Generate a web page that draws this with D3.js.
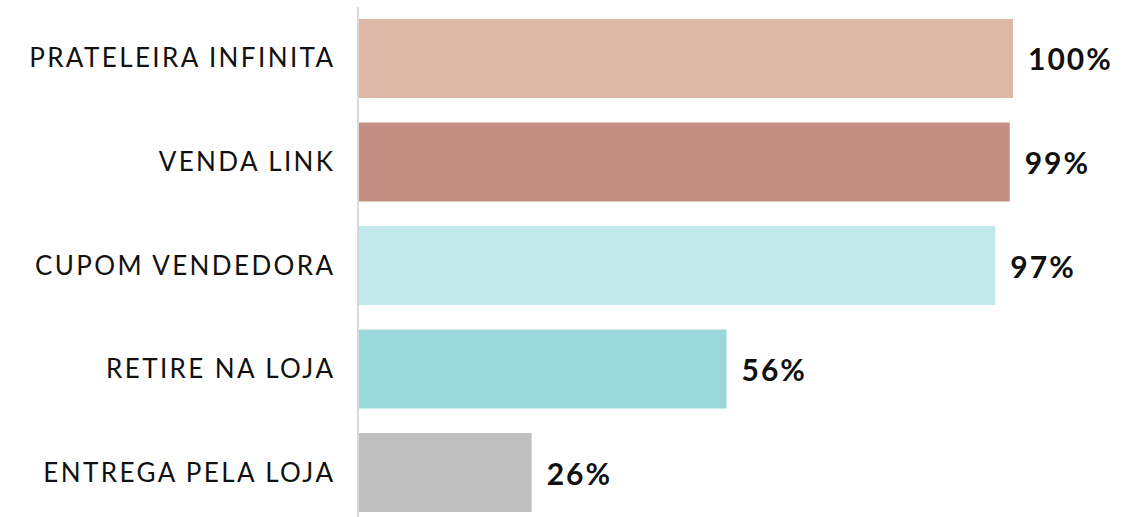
<!DOCTYPE html>
<html><head><meta charset="utf-8">
<script src="https://cdn.jsdelivr.net/npm/d3@7"></script>
<style>body{margin:0;background:#fff}svg{display:block}</style>
</head><body>
<svg id="c" width="1138" height="517"></svg>
<script>
const categories = ["PRATELEIRA INFINITA","VENDA LINK","CUPOM VENDEDORA","RETIRE NA LOJA","ENTREGA PELA LOJA"];
const values = [100, 99.5, 97.3, 56.2, 26.4];
const valueLabels = ["100%","99%","97%","56%","26%"];
const colors = ["#DDB8A6","#C48E82","#C1E8EA","#9BD8DB","#BFBFBF"];

const svg = d3.select("#c");
const x = d3.scaleLinear().domain([0,100]).range([359,1013]);
const y = d3.scaleBand().domain(categories).range([19,512]).paddingInner(0.237).paddingOuter(0);

svg.selectAll("rect.bar").data(categories).join("rect")
  .attr("x", x(0)).attr("y", d=>y(d))
  .attr("width", (d,i)=>x(values[i])-x(0)).attr("height", y.bandwidth())
  .attr("fill", (d,i)=>colors[i]);

svg.append("line").attr("x1",358).attr("x2",358).attr("y1",7).attr("y2",517)
  .attr("stroke","#d9d9d9").attr("stroke-width",2);

svg.selectAll("text.cat").data(categories).join("text")
  .attr("x",335.5).attr("y",d=>y(d)+y.bandwidth()/2-1)
  .attr("text-anchor","end").attr("dominant-baseline","central")
  .attr("font-family","Lato, 'Noto Sans', sans-serif").attr("font-size",26)
  .attr("letter-spacing",2.4)
  .attr("fill","#111").text(d=>d);

svg.selectAll("text.val").data(categories).join("text")
  .attr("x",(d,i)=>x(values[i])+15).attr("y",d=>y(d)+y.bandwidth()/2)
  .attr("dominant-baseline","central")
  .attr("font-family","Lato, 'Noto Sans', sans-serif").attr("font-size",30).attr("font-weight","bold")
  .attr("letter-spacing",2)
  .attr("fill","#111").text((d,i)=>valueLabels[i]);
</script>
</body></html>
